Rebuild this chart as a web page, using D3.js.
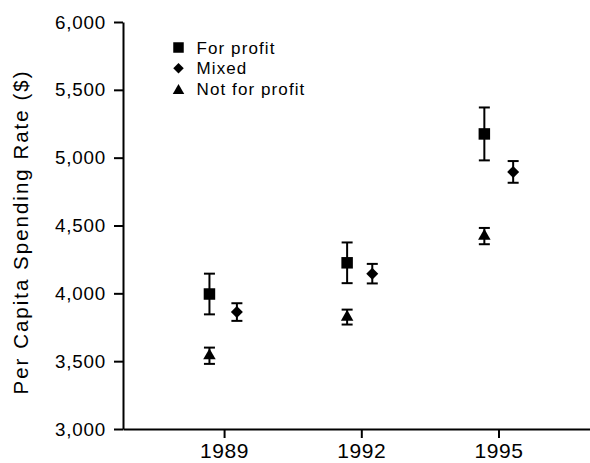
<!DOCTYPE html>
<html>
<head>
<meta charset="utf-8">
<script src="https://cdn.jsdelivr.net/npm/d3@7"></script>
<style>
  html, body { margin: 0; padding: 0; background: #fff; }
  svg { display: block; }
  text { font-family: "Liberation Sans", Arial, Helvetica, sans-serif; fill: #000; }
</style>
</head>
<body>
<svg id="chart" width="590" height="463"></svg>
<script>
// ---- data ----
const years = [1989, 1992, 1995];
const yTicks = [3000, 3500, 4000, 4500, 5000, 5500, 6000];
const seriesNames = ["For profit", "Mixed", "Not for profit"];

const forProfitX = [1988.68, 1991.69, 1994.69];
const forProfitMean = [3995, 4225, 5175];
const forProfitErr = [150, 150, 195];

const mixedX = [1989.28, 1992.24, 1995.32];
const mixedMean = [3862, 4145, 4895];
const mixedErr = [65, 72, 80];

const notForProfitX = [1988.68, 1991.69, 1994.69];
const notForProfitMean = [3540, 3825, 4422];
const notForProfitErr = [60, 55, 60];

// ---- layout ----
const svg = d3.select("#chart");
const x = d3.scaleLinear().domain([1986.79, 1997]).range([123, 590]);
const y = d3.scaleLinear().domain([3000, 6000]).range([429, 22]);

// symbol paths
function squarePath(s) { const h = s / 2; return `M${-h},${-h}H${h}V${h}H${-h}Z`; }
function diamondPath(s) { const h = s / 2; return `M0,${-h}L${h},0L0,${h}L${-h},0Z`; }
function trianglePath(s) { const h = s * Math.sqrt(3) / 2; return `M0,${-h * 2 / 3}L${s / 2},${h / 3}L${-s / 2},${h / 3}Z`; }

const series = [
  { name: seriesNames[0], xs: forProfitX, m: forProfitMean, e: forProfitErr, path: squarePath(11.5) },
  { name: seriesNames[1], xs: mixedX, m: mixedMean, e: mixedErr, path: diamondPath(12) },
  { name: seriesNames[2], xs: notForProfitX, m: notForProfitMean, e: notForProfitErr, path: trianglePath(12.5) }
];

// ---- axes ----
const yAxis = svg.append("g")
  .attr("transform", "translate(123,0)")
  .call(d3.axisLeft(y).tickValues(yTicks).tickFormat(d3.format(",")).tickSize(9).tickPadding(8).tickSizeOuter(0));
yAxis.select(".domain").attr("stroke", "#000").attr("stroke-width", 2);
yAxis.selectAll(".tick line").attr("stroke", "#000").attr("stroke-width", 2);
yAxis.selectAll(".tick text").attr("font-size", 18.8).attr("letter-spacing", 0.8)
  .style("font-family", '"Liberation Sans", Arial, sans-serif').attr("fill", "#000");

const xAxis = svg.append("g")
  .attr("transform", "translate(0,429)")
  .call(d3.axisBottom(x).tickValues(years).tickFormat(d3.format("d")).tickSize(9).tickPadding(5).tickSizeOuter(0));
xAxis.select(".domain").attr("stroke", "#000").attr("stroke-width", 2);
xAxis.selectAll(".tick line").attr("stroke", "#000").attr("stroke-width", 2);
xAxis.selectAll(".tick text").attr("font-size", 21).attr("letter-spacing", 0.6)
  .style("font-family", '"Liberation Sans", Arial, sans-serif').attr("fill", "#000");

// y axis title
svg.append("text")
  .attr("transform", "translate(27.5,232) rotate(-90)")
  .attr("text-anchor", "middle")
  .attr("font-size", 20.5)
  .attr("letter-spacing", 2.0)
  .text("Per Capita Spending Rate ($)");

// ---- marks ----
const capW = 11;
series.forEach(s => {
  const g = svg.append("g");
  s.xs.forEach((xv, i) => {
    const cx = x(xv);
    const top = y(s.m[i] + s.e[i]);
    const bot = y(s.m[i] - s.e[i]);
    g.append("line").attr("x1", cx).attr("x2", cx).attr("y1", top).attr("y2", bot)
      .attr("stroke", "#000").attr("stroke-width", 2);
    g.append("line").attr("x1", cx - capW / 2).attr("x2", cx + capW / 2).attr("y1", top).attr("y2", top)
      .attr("stroke", "#000").attr("stroke-width", 2);
    g.append("line").attr("x1", cx - capW / 2).attr("x2", cx + capW / 2).attr("y1", bot).attr("y2", bot)
      .attr("stroke", "#000").attr("stroke-width", 2);
    g.append("path").attr("d", s.path).attr("transform", `translate(${cx},${y(s.m[i])})`).attr("fill", "#000");
  });
});

// ---- legend ----
const legend = svg.append("g").attr("transform", "translate(178.5,47.5)");
series.forEach((s, i) => {
  const row = legend.append("g").attr("transform", `translate(0,${i * 20.8})`);
  const legPath = i === 0 ? squarePath(10.5) : i === 1 ? diamondPath(10.5) : trianglePath(11.5);
  row.append("path").attr("d", legPath).attr("transform", i === 2 ? "translate(0,1.5)" : null).attr("fill", "#000");
  row.append("text").attr("x", 18).attr("y", 6).attr("font-size", 17).attr("letter-spacing", 1.1).text(s.name);
});
</script>
</body>
</html>
